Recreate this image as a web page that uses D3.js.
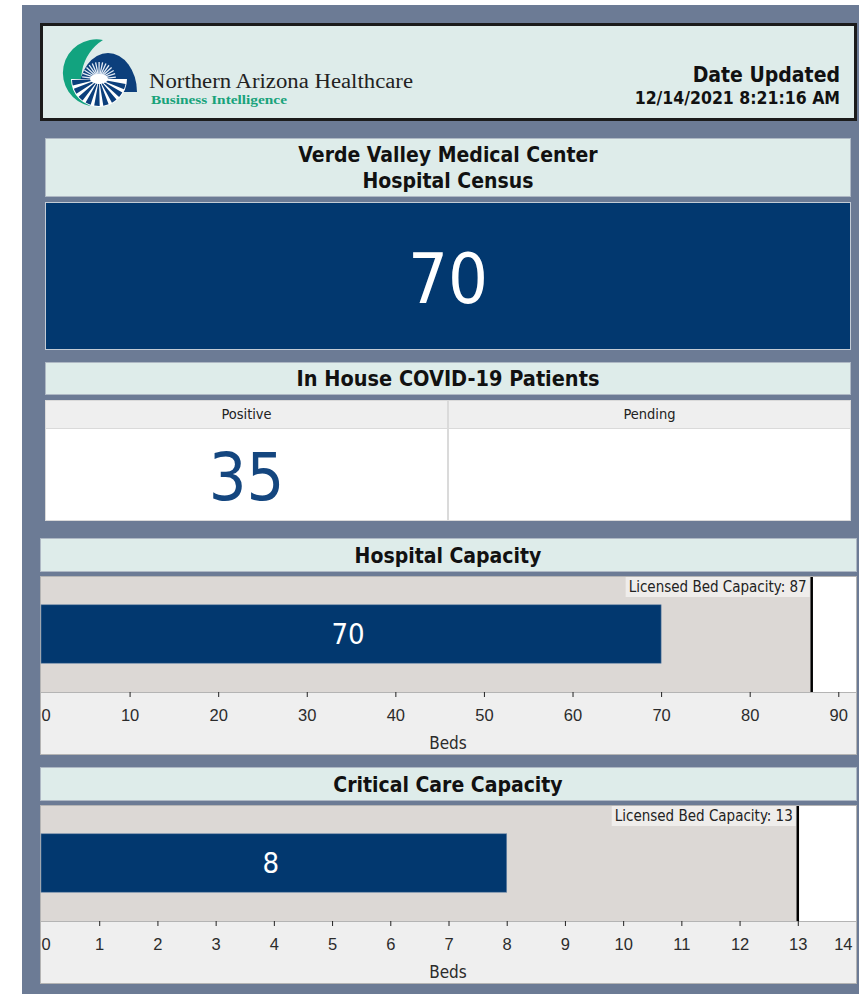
<!DOCTYPE html>
<html>
<head>
<meta charset="utf-8">
<script src="https://cdn.jsdelivr.net/npm/d3@7"></script>
<style>
    body { margin: 0; background: #ffffff; }
    #dashboard svg { display: block; font-family: Tahoma, "DejaVu Sans Condensed", "DejaVu Sans", sans-serif; }
    .tick text { font-size: 16.5px; fill: #2b2b2b; }
    .tick line { stroke: #222; }
</style>
</head>
<body>
<div id="dashboard"><svg width="859" height="994"></svg></div>
<script>
// values
const dateUpdated = ["12/14/2021 8:21:16 AM"];
const censusTitle = ["Verde Valley Medical Center", "Hospital Census"];
const censusTotal = [70];
const covidColumns = ["Positive", "Pending"];
const covidCounts = [35, null];
const gaugeTitles = ["Hospital Capacity", "Critical Care Capacity"];
const bedsOccupied = [70, 8];
const bedsLicensed = [87, 13];
const axisMax = [92, 14];
const hospitalTicks = [0, 10, 20, 30, 40, 50, 60, 70, 80, 90];
const criticalTicks = [0, 1, 2, 3, 4, 5, 6, 7, 8, 9, 10, 11, 12, 13, 14];
const gaugeTicks = [hospitalTicks, criticalTicks];

function drawLogo(svg) {
    const logo = svg.append("g");
    const sun = [99, 79];

    // green crescent
    logo.append("path")
        .attr("d", "M103,40 A33.2,33.2 0 0,0 90,106 A46,46 0 0,1 103,40 Z")
        .attr("fill", "#12a37f");

    // blue upper half
    logo.append("path")
        .attr("d", "M79,92 A29,39 0 0,1 137,92 Z")
        .attr("fill", "#0c3f7c");

    // fan of blue rays under the sun
    const wedge = d3.arc().innerRadius(5).outerRadius(27);
    const fan = d3.range(9).map(i => 0.56 * Math.PI + i * 0.108 * Math.PI);
    logo.append("path")
        .attr("transform", `translate(${sun})`)
        .attr("d", d3.arc().innerRadius(0).outerRadius(28)({startAngle: 0.5 * Math.PI, endAngle: 1.5 * Math.PI}))
        .attr("fill", "#ffffff");
    logo.selectAll("path.fan")
        .data(fan)
        .join("path")
        .attr("class", "fan")
        .attr("transform", `translate(${sun})`)
        .attr("d", d => wedge({startAngle: d, endAngle: d + 0.065 * Math.PI}))
        .attr("fill", "#0c3f7c");

    // white glow rays above the horizon
    logo.selectAll("line.glow")
        .data(d3.range(15).map(i => Math.PI * (1.04 + i * 0.066)))
        .join("line")
        .attr("class", "glow")
        .attr("x1", d => sun[0] + Math.cos(d) * 4)
        .attr("y1", d => sun[1] + Math.sin(d) * 4)
        .attr("x2", d => sun[0] + Math.cos(d) * 17)
        .attr("y2", d => sun[1] + Math.sin(d) * 17)
        .attr("stroke", "#e4ecf6").attr("stroke-width", 1.3);
    logo.append("ellipse").attr("cx", sun[0]).attr("cy", sun[1]).attr("rx", 9).attr("ry", 5).attr("fill", "#ffffff");
}

function drawDashboard() {

    const navy = "#02386f";
    const mint = "#deecea";

    const svg = d3.select("#dashboard svg");
    svg.html("");

    // slate page frame
    svg.append("rect").attr("x", 22).attr("y", 5).attr("width", 837).attr("height", 989).attr("fill", "#6c7b95");

    // ---- header with logo ----
    svg.append("rect")
        .attr("x", 41.5).attr("y", 24.5).attr("width", 814).attr("height", 95)
        .attr("fill", mint).attr("stroke", "#1b1b1b").attr("stroke-width", 3);

    drawLogo(svg);

    svg.append("text")
        .attr("x", 149).attr("y", 87.5)
        .attr("font-family", "'Liberation Serif', serif")
        .attr("font-size", 20.5).attr("fill", "#222")
        .attr("textLength", 264).attr("lengthAdjust", "spacingAndGlyphs")
        .text("Northern Arizona Healthcare");
    svg.append("text")
        .attr("x", 151).attr("y", 104)
        .attr("font-family", "'Liberation Serif', serif")
        .attr("font-weight", "bold")
        .attr("font-size", 12.5).attr("fill", "#18a37b")
        .attr("textLength", 136).attr("lengthAdjust", "spacingAndGlyphs")
        .text("Business Intelligence");

    svg.append("text")
        .attr("x", 840).attr("y", 82).attr("text-anchor", "end")
        .attr("font-size", 21).attr("font-weight", "bold").attr("fill", "#111")
        .text("Date Updated");
    svg.append("text")
        .attr("x", 840).attr("y", 104).attr("text-anchor", "end")
        .attr("font-size", 17.5).attr("font-weight", "bold").attr("fill", "#111")
        .text(dateUpdated[0]);

    // ---- census tile ----
    svg.append("rect")
        .attr("x", 45.5).attr("y", 138.5).attr("width", 805).attr("height", 58)
        .attr("fill", mint).attr("stroke", "#aeb8c4");
    svg.selectAll("text.censusTitle")
        .data(censusTitle)
        .join("text")
        .attr("class", "censusTitle")
        .attr("x", 448).attr("y", (d, i) => 162 + i * 26)
        .attr("text-anchor", "middle")
        .attr("font-size", 21).attr("font-weight", "bold").attr("fill", "#111")
        .text(d => d);

    svg.append("rect")
        .attr("x", 45.5).attr("y", 202.5).attr("width", 805).attr("height", 147)
        .attr("fill", navy).attr("stroke", "#c3cbd5");
    svg.append("text")
        .attr("x", 448).attr("y", 303).attr("text-anchor", "middle")
        .attr("font-size", 70).attr("fill", "#ffffff")
        .text(censusTotal[0]);

    // ---- covid tile ----
    svg.append("rect")
        .attr("x", 45.5).attr("y", 362.5).attr("width", 805).attr("height", 32)
        .attr("fill", mint).attr("stroke", "#aeb8c4");
    svg.append("text")
        .attr("x", 448).attr("y", 386).attr("text-anchor", "middle")
        .attr("font-size", 21.5).attr("font-weight", "bold").attr("fill", "#111")
        .text("In House COVID-19 Patients");

    const col = d3.scaleBand()
        .domain(covidColumns)
        .range([45, 851]);

    const cells = svg.selectAll("g.cell")
        .data(covidColumns)
        .join("g")
        .attr("class", "cell")
        .attr("transform", d => `translate(${col(d)},400)`);
    cells.append("rect")
        .attr("x", 0.5).attr("y", 0.5).attr("width", col.bandwidth() - 1).attr("height", 120)
        .attr("fill", "#ffffff").attr("stroke", "#dadada");
    cells.append("rect")
        .attr("x", 0.5).attr("y", 0.5).attr("width", col.bandwidth() - 1).attr("height", 28)
        .attr("fill", "#efefef").attr("stroke", "#dadada");
    cells.append("text")
        .attr("x", col.bandwidth() / 2).attr("y", 19).attr("text-anchor", "middle")
        .attr("font-size", 14.5).attr("fill", "#222")
        .text(d => d);
    cells.append("text")
        .attr("x", col.bandwidth() / 2).attr("y", 100).attr("text-anchor", "middle")
        .attr("font-size", 66).attr("fill", "#14467f")
        .text((d, i) => covidCounts[i] == null ? "" : covidCounts[i]);

    // ---- capacity gauges ----
    const panelTop = [538, 767];
    const left = 41, right = 856;
    const plotH = 116, axisH = 62;

    gaugeTitles.forEach(function(title, i) {
        const g = svg.append("g").attr("transform", `translate(0,${panelTop[i]})`);

        g.append("rect")
            .attr("x", 40.5).attr("y", 0.5).attr("width", 816).attr("height", 33)
            .attr("fill", mint).attr("stroke", "#aeb8c4");
        g.append("text")
            .attr("x", 448).attr("y", 25).attr("text-anchor", "middle")
            .attr("font-size", 21).attr("font-weight", "bold").attr("fill", "#111")
            .text(title);

        const x = d3.scaleLinear()
            .domain([0, axisMax[i]])
            .range([left, right]);

        const y = d3.scaleBand()
            .domain([title])
            .range([0, plotH])
            .padding(0.33);

        const plot = g.append("g").attr("transform", "translate(0,38)");

        plot.append("rect")
            .attr("x", 40.5).attr("y", 0.5).attr("width", 816).attr("height", plotH + axisH)
            .attr("fill", "#efefef").attr("stroke", "#b4b4b4");
        plot.append("rect")
            .attr("x", left).attr("y", 1).attr("width", x(bedsLicensed[i]) - left).attr("height", plotH - 1)
            .attr("fill", "#dcd8d5");
        plot.append("rect")
            .attr("x", x(bedsLicensed[i])).attr("y", 1).attr("width", right - x(bedsLicensed[i])).attr("height", plotH - 1)
            .attr("fill", "#ffffff");
        plot.append("line")
            .attr("x1", 40).attr("x2", 857).attr("y1", plotH + 0.5).attr("y2", plotH + 0.5)
            .attr("stroke", "#b4b4b4");

        plot.selectAll("rect.bar")
            .data([bedsOccupied[i]])
            .join("rect")
            .attr("class", "bar")
            .attr("x", left)
            .attr("y", y(title))
            .attr("width", d => x(d) - left)
            .attr("height", y.bandwidth())
            .attr("fill", navy)
            .attr("stroke", "#6d88a8").attr("stroke-width", 0.6);

        plot.selectAll("text.barLabel")
            .data([bedsOccupied[i]])
            .join("text")
            .attr("class", "barLabel")
            .attr("x", d => (x(d) + left) / 2 - 3)
            .attr("y", y(title) + y.bandwidth() / 2 + 10)
            .attr("text-anchor", "middle")
            .attr("font-size", 29).attr("fill", "#ffffff")
            .text(d => d);

        // licensed capacity marker
        plot.append("line")
            .attr("x1", x(bedsLicensed[i])).attr("x2", x(bedsLicensed[i]))
            .attr("y1", 1).attr("y2", plotH)
            .attr("stroke", "#000").attr("stroke-width", 2.5);
        const capLabel = plot.append("text")
            .attr("x", x(bedsLicensed[i]) - 5).attr("y", 16)
            .attr("text-anchor", "end")
            .attr("font-size", 15).attr("fill", "#222")
            .text(`Licensed Bed Capacity: ${bedsLicensed[i]}`);
        const bb = capLabel.node().getBBox();
        plot.insert("rect", "text:last-of-type")
            .attr("x", bb.x - 3).attr("y", 1).attr("width", bb.width + 6).attr("height", 20)
            .attr("fill", "#efedeb");
        capLabel.raise();

        // axis
        const axis = plot.append("g")
            .attr("transform", `translate(0,${plotH})`)
            .call(d3.axisBottom(x).tickValues(gaugeTicks[i]).tickSize(5).tickPadding(12).tickFormat(d3.format("d")));
        axis.select(".domain").remove();
        axis.selectAll(".tick text")
            .attr("text-anchor", d => d === 0 ? "start" : (x(d) + 12 > right ? "end" : "middle"))
            .attr("x", d => x(d) + 12 > right ? right - 4 - x(d) : 0)
            .style("font-family", "inherit");
        axis.selectAll(".tick")
            .filter(d => x(d) >= right || d === 0)
            .select("line").remove();

        plot.append("text")
            .attr("x", 448).attr("y", plotH + 57).attr("text-anchor", "middle")
            .attr("font-size", 17).attr("fill", "#2b2b2b")
            .text("Beds");
    });
}

document.addEventListener('DOMContentLoaded', drawDashboard);
</script>
</body>
</html>
